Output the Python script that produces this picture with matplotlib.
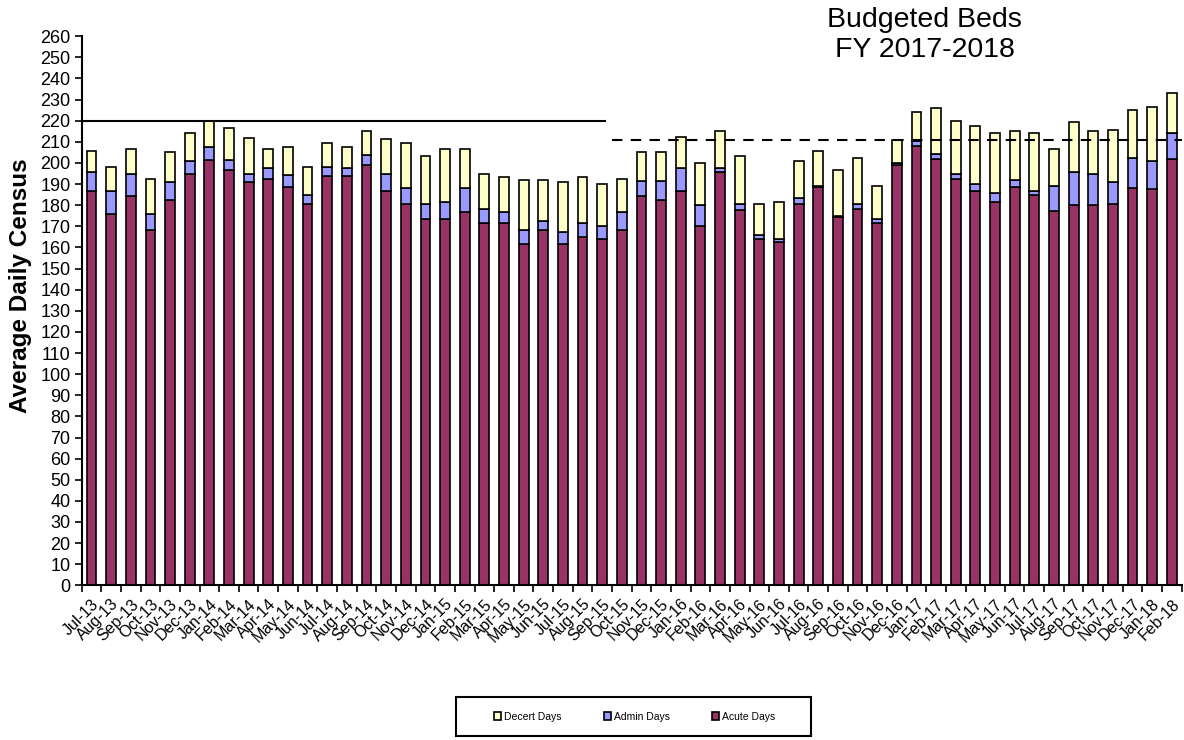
import matplotlib.pyplot as plt
import numpy as np
from matplotlib.patches import Rectangle

plt.rcParams["font.family"] = ["Liberation Sans", "DejaVu Sans"]

months = ["Jul-13", "Aug-13", "Sep-13", "Oct-13", "Nov-13", "Dec-13", "Jan-14", "Feb-14",
          "Mar-14", "Apr-14", "May-14", "Jun-14", "Jul-14", "Aug-14", "Sep-14", "Oct-14",
          "Nov-14", "Dec-14", "Jan-15", "Feb-15", "Mar-15", "Apr-15", "May-15", "Jun-15",
          "Jul-15", "Aug-15", "Sep-15", "Oct-15", "Nov-15", "Dec-15", "Jan-16", "Feb-16",
          "Mar-16", "Apr-16", "May-16", "Jun-16", "Jul-16", "Aug-16", "Sep-16", "Oct-16",
          "Nov-16", "Dec-16", "Jan-17", "Feb-17", "Mar-17", "Apr-17", "May-17", "Jun-17",
          "Jul-17", "Aug-17", "Sep-17", "Oct-17", "Nov-17", "Dec-17", "Jan-18", "Feb-18"]

acute = [186.5, 175.8, 184.2, 168.3, 182.4, 194.8, 201.6, 196.7, 190.8, 192.5, 188.4, 180.7,
         193.9, 193.9, 199.1, 186.5, 180.7, 173.3, 173.3, 176.6, 171.6, 171.6, 161.7, 168.3,
         161.7, 165.0, 164.2, 168.3, 184.2, 182.4, 186.5, 170.0, 195.8, 177.5, 164.2, 162.5,
         180.7, 188.4, 174.2, 178.3, 171.7, 199.1, 208.2, 201.8, 192.6, 186.7, 181.6, 188.4,
         184.9, 177.4, 179.9, 179.9, 180.7, 188.2, 187.5, 201.8]

admin = [9.3, 10.9, 10.6, 7.4, 8.4, 6.0, 5.8, 4.9, 4.0, 4.9, 5.7, 4.2,
         4.2, 3.6, 4.9, 8.3, 7.5, 7.4, 8.2, 11.6, 6.7, 5.0, 6.6, 4.2,
         5.8, 6.6, 5.8, 8.3, 7.3, 9.1, 10.9, 9.9, 1.6, 3.3, 1.7, 1.7,
         2.5, 0.8, 0.8, 2.5, 1.6, 0.9, 2.4, 2.5, 2.4, 3.3, 4.1, 3.3,
         1.8, 11.8, 15.9, 14.9, 10.1, 14.2, 13.3, 12.5]

decert = [10.0, 11.6, 12.0, 16.9, 14.4, 13.5, 12.6, 15.1, 16.9, 9.4, 13.5, 13.4,
          11.2, 10.1, 11.0, 16.7, 21.1, 22.6, 25.1, 18.4, 16.7, 16.8, 23.4, 19.2,
          23.4, 21.8, 20.0, 15.9, 13.6, 13.6, 15.1, 20.1, 17.6, 22.5, 14.9, 17.4,
          17.6, 16.6, 21.7, 21.7, 15.9, 10.9, 13.6, 21.5, 25.0, 27.5, 28.5, 23.3,
          27.5, 17.4, 23.4, 20.2, 25.0, 22.6, 25.8, 18.9]

budget_fy14 = 220
budget_fy18 = 211

acute_color = "#993366"
admin_color = "#9999ff"
decert_color = "#ffffcc"

fig = plt.figure(figsize=(11.84, 7.40), dpi=100)
ax = fig.add_axes([0.069, 0.209, 0.929, 0.742])

x = np.arange(len(months))
acute_a = np.array(acute)
admin_a = np.array(admin)
decert_a = np.array(decert)
bar_kw = dict(width=0.5, edgecolor="black", linewidth=1.2, zorder=2)
b_acute = ax.bar(x, acute_a, color=acute_color, label="Acute Days", **bar_kw)
b_admin = ax.bar(x, admin_a, bottom=acute_a, color=admin_color, label="Admin Days", **bar_kw)
b_decert = ax.bar(x, decert_a, bottom=acute_a + admin_a, color=decert_color,
                  label="Decert Days", **bar_kw)

# budget reference lines
ax.plot([-0.5, 26.15], [budget_fy14] * 2, color="black", lw=1.5, zorder=3)
ax.plot([26.5, len(months) - 0.5], [budget_fy18] * 2, color="black", lw=1.5,
        ls=(0, (5, 4)), zorder=3)

ax.set_xlim(-0.5, len(months) - 0.5)
ax.set_ylim(0, 260)
ax.set_yticks(np.arange(0, 261, 10))
ax.tick_params(axis="y", direction="out", length=5, width=1.2, labelsize=13, pad=3)

ax.set_xticks(x)
ax.set_xticklabels(months, rotation=45, ha="right", rotation_mode="anchor", fontsize=11.5)
ax.tick_params(axis="x", which="major", length=0, pad=8)
ax.set_xticks(np.arange(-0.5, len(months)), minor=True)
ax.tick_params(axis="x", which="minor", direction="out", length=5, width=1.2)

for side in ("top", "right"):
    ax.spines[side].set_visible(False)
for side in ("left", "bottom"):
    ax.spines[side].set_linewidth(1.5)

ax.set_ylabel("Average Daily Census", fontsize=17.5, fontweight="bold")
ax.yaxis.set_label_coords(-0.045, 0.545)

fig.text(0.781, 0.991, "Budgeted Beds\nFY 2017-2018", ha="center", va="top",
         fontsize=20.5, linespacing=1.2)

# legend box drawn as a plain rectangle, entries centred inside it
fig.patches.append(Rectangle((0.385, 0.005), 0.300, 0.053, transform=fig.transFigure,
                             facecolor="white", edgecolor="black", linewidth=1.5,
                             zorder=1))
leg = fig.legend(handles=[b_decert, b_admin, b_acute], loc="center",
                 bbox_to_anchor=(0.536, 0.0315), ncol=3, fontsize=7.5, frameon=False,
                 handlelength=0.7, handleheight=0.7, handletextpad=0.3,
                 columnspacing=4.0)

fig.savefig("out.png", dpi=100)
